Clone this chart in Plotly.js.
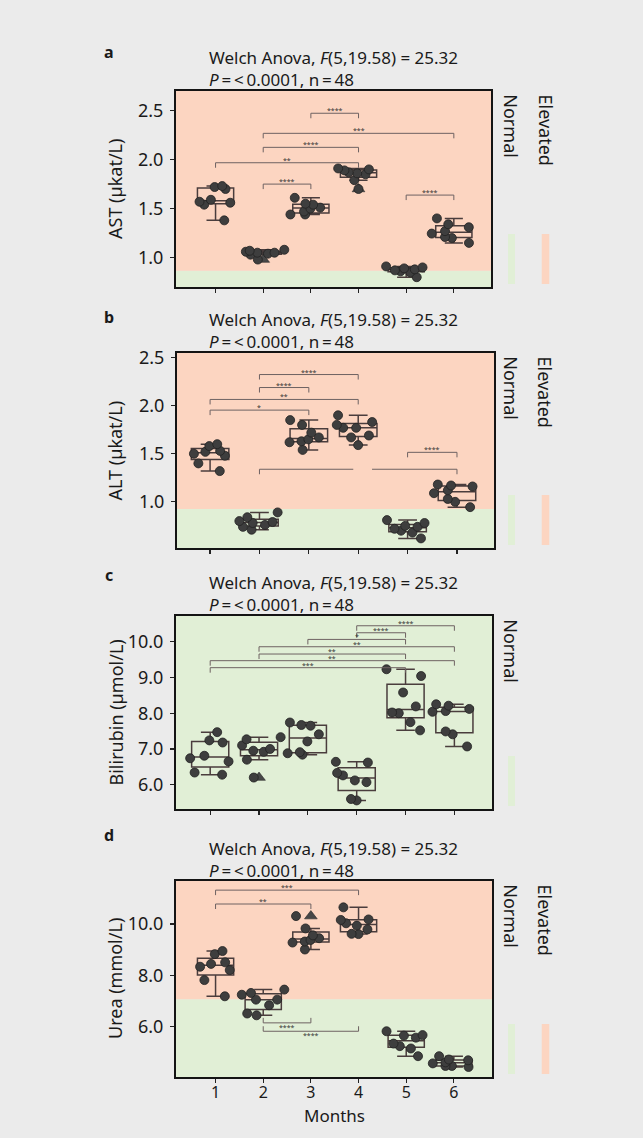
<!DOCTYPE html>
<html><head><meta charset="utf-8">
<script src="https://cdn.plot.ly/plotly-3.0.1.min.js"></script>
<style>html,body{margin:0;padding:0;background:#ebebeb;}#chart{width:643px;height:1138px;}</style>
</head><body><div id="chart"></div>
<script>
// ---------- DATA ----------
const months = [1, 2, 3, 4, 5, 6];
const monthLabels = ['1', '2', '3', '4', '5', '6'];

const astValues = [
  [1.38, 1.54, 1.56, 1.57, 1.59, 1.70, 1.72, 1.73],
  [0.98, 1.03, 1.04, 1.05, 1.05, 1.06, 1.07, 1.08],
  [1.44, 1.44, 1.47, 1.50, 1.51, 1.54, 1.55, 1.61],
  [1.70, 1.79, 1.85, 1.86, 1.87, 1.89, 1.90, 1.91],
  [0.80, 0.85, 0.86, 0.87, 0.88, 0.89, 0.90, 0.91],
  [1.15, 1.20, 1.21, 1.245, 1.27, 1.31, 1.34, 1.40]
];
const altValues = [
  [1.32, 1.40, 1.48, 1.50, 1.52, 1.53, 1.58, 1.60],
  [0.71, 0.74, 0.76, 0.78, 0.79, 0.80, 0.84, 0.89],
  [1.54, 1.62, 1.63, 1.65, 1.67, 1.72, 1.80, 1.85],
  [1.59, 1.67, 1.69, 1.77, 1.77, 1.80, 1.83, 1.90],
  [0.62, 0.68, 0.70, 0.72, 0.74, 0.75, 0.78, 0.81],
  [0.945, 1.00, 1.03, 1.09, 1.12, 1.16, 1.17, 1.18]
];
const bilValues = [
  [6.28, 6.34, 6.65, 6.74, 6.81, 7.18, 7.24, 7.47],
  [6.20, 6.70, 6.92, 6.95, 7.00, 7.10, 7.27, 7.33],
  [6.84, 6.88, 6.91, 7.21, 7.41, 7.65, 7.67, 7.74],
  [5.56, 5.60, 6.07, 6.12, 6.26, 6.33, 6.62, 6.64],
  [7.52, 7.75, 8.00, 8.02, 8.19, 8.58, 9.04, 9.23],
  [7.07, 7.41, 7.49, 8.04, 8.06, 8.12, 8.21, 8.25]
];
const ureaValues = [
  [7.19, 7.82, 8.21, 8.34, 8.45, 8.51, 8.83, 8.95],
  [6.45, 6.52, 6.84, 7.06, 7.06, 7.25, 7.32, 7.45],
  [9.01, 9.28, 9.32, 9.38, 9.45, 9.56, 9.83, 10.31],
  [9.61, 9.62, 9.79, 9.94, 10.03, 10.16, 10.18, 10.65],
  [4.86, 5.16, 5.25, 5.35, 5.58, 5.66, 5.68, 5.83],
  [4.44, 4.48, 4.48, 4.58, 4.62, 4.70, 4.73, 4.86]
];

// upper limit of the normal range (null = whole range normal)
const astNormalMax = 0.865;
const altNormalMax = 0.925;
const bilNormalMax = null;
const ureaNormalMax = 7.07;

const astTicks = [1.0, 1.5, 2.0, 2.5];
const altTicks = [1.0, 1.5, 2.0, 2.5];
const bilTicks = [6, 7, 8, 9, 10];
const ureaTicks = [6, 8, 10];

// significance brackets: [from month, to month, height, label, direction]
const astBrackets = [[3,4,2.473,'****'],[2,6,2.268,'***'],[2,4,2.125,'****'],[1,4,1.968,'**'],[2,3,1.75,'****'],[5,6,1.638,'****']];
const altBrackets = [[2,4,2.324,'****'],[2,3,2.189,'****'],[1,4,2.065,'**'],[1,3,1.954,'*'],[5,6,1.515,'****'],[2,6,1.339,'']];
const altBracketGap = [3.9, 4.28];
const bilBrackets = [[4,6,10.447,'****'],[4,5,10.251,'****'],[3,5,10.065,'*'],[2,6,9.86,'**'],[2,5,9.656,'**'],[1,6,9.47,'**'],[1,5,9.274,'***']];
const ureaBrackets = [[1,4,11.32,'***'],[1,3,10.78,'**'],[2,3,6.156,'****','down'],[2,4,5.83,'****','down']];

const statTitle = 'Welch Anova, <i>F</i>(5,19.58) = 25.32<br><i>P</i>\u2009=\u2009&lt;\u20090.0001, n\u2009=\u200948';

// ---------- LAYOUT CONFIG ----------
const W = 643, H = 1138;
const FONT = 'Noto Sans, Open Sans, sans-serif';
const TXT = '#1a1a1a';
const GREEN = '#e1efd6', ORANGE = '#fcd5c1';

const panels = [
  {letter:'a', values:astValues, ticks:astTicks, normalMax:astNormalMax, brackets:astBrackets, gap:null,
   ytitle:'AST (µkat/L)', xDom:[176,491], yDom:[91,287], xRange:[0.17,6.78], yRange:[0.70,2.70], titleY:68.7, letterY:51.7, elevated:true},
  {letter:'b', values:altValues, ticks:altTicks, normalMax:altNormalMax, brackets:altBrackets, gap:altBracketGap,
   ytitle:'ALT (µkat/L)', xDom:[177,494], yDom:[353,548], xRange:[0.33,6.75], yRange:[0.52,2.548], titleY:330.3, letterY:316.7, elevated:true},
  {letter:'c', values:bilValues, ticks:bilTicks, normalMax:bilNormalMax, brackets:bilBrackets, gap:null,
   ytitle:'Bilirubin (µmol/L)', xDom:[176,492], yDom:[616,809], xRange:[0.30,6.77], yRange:[5.32,10.72], titleY:593.7, letterY:575, elevated:false},
  {letter:'d', values:ureaValues, ticks:ureaTicks, normalMax:ureaNormalMax, brackets:ureaBrackets, gap:null,
   ytitle:'Urea (mmol/L)', xDom:[176,492], yDom:[881,1077], xRange:[0.17,6.80], yRange:[4.05,11.675], titleY:859.7, letterY:835, elevated:true}
];

const px = v => v / W;
const py = v => 1 - v / H;

const traces = [], shapes = [], annotations = [];
const layout = {
  width: W, height: H,
  margin: {l:0, r:0, t:0, b:0},
  paper_bgcolor: '#ebebeb', plot_bgcolor: 'rgba(0,0,0,0)',
  showlegend: false, boxmode: 'overlay', hovermode: false,
  font: {family: FONT, color: TXT}
};

panels.forEach((p, i) => {
  const n = i === 0 ? '' : String(i + 1);
  const xa = 'x' + n, ya = 'y' + n;
  const xs = [], ys = [];
  p.values.forEach((grp, g) => grp.forEach(v => { xs.push(months[g]); ys.push(v); }));

  // box with outliers (triangles at centre)
  traces.push({
    type: 'box', x: xs, y: ys, xaxis: xa, yaxis: ya,
    width: 0.76, whiskerwidth: 0.5,
    boxpoints: 'outliers', pointpos: 0, jitter: 0,
    fillcolor: 'rgba(0,0,0,0)',
    line: {color: '#4a3d3d', width: 1.5},
    marker: {symbol: 'triangle-up', size: 11, color: '#474747', line: {color: '#2a2a2a', width: 0.6}}
  });
  // all individual points, jittered
  traces.push({
    type: 'box', x: xs, y: ys, xaxis: xa, yaxis: ya,
    width: 1.0, boxpoints: 'all', pointpos: 0, jitter: 1,
    fillcolor: 'rgba(0,0,0,0)',
    line: {color: 'rgba(0,0,0,0)', width: 0},
    marker: {symbol: 'circle', size: 9, color: '#3e3e3e', line: {color: '#222', width: 0.8}}
  });

  const xDomain = [px(p.xDom[0]), px(p.xDom[1])];
  const yDomain = [py(p.yDom[1]), py(p.yDom[0])];
  layout['xaxis' + n] = {
    domain: xDomain, range: p.xRange, anchor: ya,
    tickmode: 'array', tickvals: months, ticktext: monthLabels,
    showticklabels: i === 3, ticks: 'outside', ticklen: 4, tickwidth: 1.2, tickcolor: '#222',
    ticklabelstandoff: -4,
    tickfont: {size: 16, color: TXT, family: FONT},
    showline: true, mirror: true, linecolor: '#141414', linewidth: 2,
    showgrid: false, zeroline: false, fixedrange: true
  };
  layout['yaxis' + n] = {
    domain: yDomain, range: p.yRange, anchor: xa,
    tickmode: 'array', tickvals: p.ticks, tickformat: '.1f',
    ticks: 'outside', ticklen: 4, tickwidth: 1.2, tickcolor: '#222', ticklabelstandoff: 3,
    tickfont: {size: 18, color: TXT, family: FONT},
    showline: true, mirror: true, linecolor: '#141414', linewidth: 2,
    showgrid: false, zeroline: false, fixedrange: true
  };

  // background bands
  const top = p.normalMax === null ? p.yRange[1] : p.normalMax;
  shapes.push({type:'rect', xref: xa + ' domain', yref: ya, x0:0, x1:1, y0:p.yRange[0], y1:top,
               fillcolor: GREEN, line:{width:0}, layer:'below'});
  if (p.normalMax !== null) {
    shapes.push({type:'rect', xref: xa + ' domain', yref: ya, x0:0, x1:1, y0:p.normalMax, y1:p.yRange[1],
                 fillcolor: ORANGE, line:{width:0}, layer:'below'});
  }

  // brackets
  const BC = '#6e6262';
  p.brackets.forEach(b => {
    const [a1, a2, h, label, dir] = b;
    const down = dir === 'down';
    if (label === '' && p.gap) {
      shapes.push({type:'line', xref:xa, yref:ya, x0:a1, x1:p.gap[0], y0:h, y1:h, line:{color:BC, width:1}});
      shapes.push({type:'line', xref:xa, yref:ya, x0:p.gap[1], x1:a2, y0:h, y1:h, line:{color:BC, width:1}});
    } else {
      shapes.push({type:'line', xref:xa, yref:ya, x0:a1, x1:a2, y0:h, y1:h, line:{color:BC, width:1}});
    }
    [a1, a2].forEach(e => shapes.push({type:'line', xref:xa, yref:ya, ysizemode:'pixel', yanchor:h,
      x0:e, x1:e, y0:0, y1: down ? 5 : -5, line:{color:BC, width:1}}));
    if (label) {
      annotations.push({xref:xa, yref:ya, x:(a1 + a2) / 2, y:h, text:label, showarrow:false,
        xanchor:'center', yanchor: down ? 'top' : 'bottom', yshift: down ? 1 : -3, borderpad:0,
        font:{size:7, color:'#333', family:FONT}});
    }
  });

  // texts
  annotations.push({xref:'paper', yref:'paper', x:px(108.7), y:py(p.letterY), text:'<b>' + p.letter + '</b>',
    showarrow:false, xanchor:'center', yanchor:'middle', font:{size:16, color:TXT, family:FONT}});
  annotations.push({xref:'paper', yref:'paper', x:px(208.3), y:py(p.titleY),
    text:statTitle, align:'left', showarrow:false, xanchor:'left', yanchor:'middle', borderpad:0,
    font:{size:17, color:TXT, family:FONT}});
  annotations.push({xref:'paper', yref:'paper', x:px(115), y:py((p.yDom[0] + p.yDom[1]) / 2), text:p.ytitle,
    textangle:-90, showarrow:false, xanchor:'center', yanchor:'middle', font:{size:18, color:TXT, family:FONT}});

  // right legend
  annotations.push({xref:'paper', yref:'paper', x:px(510.7), y:py(p.yDom[0] + 1), text:'Normal',
    textangle:90, showarrow:false, xanchor:'center', yanchor:'top', font:{size:18, color:TXT, family:FONT}});
  shapes.push({type:'rect', xref:'paper', yref:'paper', x0:px(508), x1:px(515), y0:py(p.yDom[1] - 3), y1:py(p.yDom[1] - 53),
    fillcolor: GREEN, line:{width:0}});
  if (p.elevated) {
    annotations.push({xref:'paper', yref:'paper', x:px(545), y:py(p.yDom[0] + 1), text:'Elevated',
      textangle:90, showarrow:false, xanchor:'center', yanchor:'top', font:{size:18, color:TXT, family:FONT}});
    shapes.push({type:'rect', xref:'paper', yref:'paper', x0:px(541.7), x1:px(549.3), y0:py(p.yDom[1] - 3), y1:py(p.yDom[1] - 53),
      fillcolor: ORANGE, line:{width:0}});
  }
});

annotations.push({xref:'paper', yref:'paper', x:px(334), y:py(1115), text:'Months', showarrow:false,
  xanchor:'center', yanchor:'middle', borderpad:0, font:{size:17, color:TXT, family:FONT}});

layout.shapes = shapes;
layout.annotations = annotations;

Plotly.newPlot('chart', traces, layout, {staticPlot: true, displayModeBar: false});
</script></body></html>
